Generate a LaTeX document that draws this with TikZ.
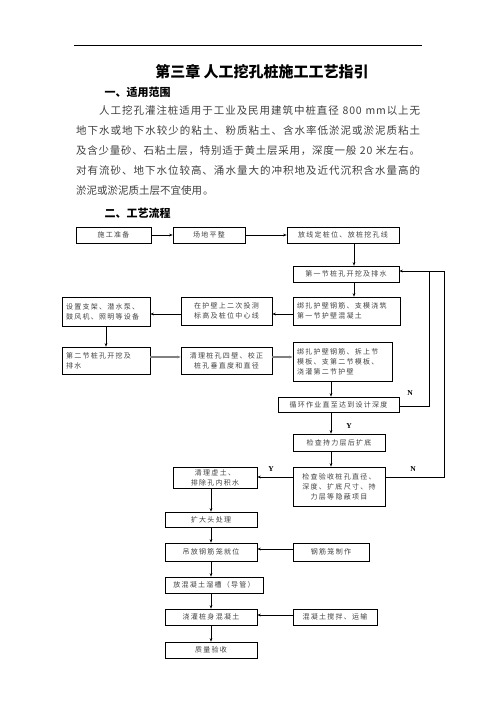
\documentclass[tikz,border=0pt]{standalone}
\usepackage{fontspec}
\setmainfont{Liberation Serif}
\newfontfamily\cjk{Noto Sans CJK SC}
\newfontfamily\boxfont[LetterSpace=18]{Noto Sans CJK SC}
\newfontfamily\parafont[LetterSpace=8]{Noto Sans CJK SC}
\XeTeXlinebreakskip=0pt plus 3pt
\usetikzlibrary{arrows.meta}

\newcommand{\bl}[1]{\mbox{#1}}

\tikzset{
  box/.style={draw, line width=0.6pt, inner sep=1pt, align=center,
    font=\boxfont\fontsize{7}{10}\selectfont, text=black!75},
  lbox/.style={box, align=left, inner xsep=4pt},
  arr/.style={-{Stealth[length=3.5pt,width=2.6pt]}, line width=0.6pt},
  thickarr/.style={arr, line width=1.5pt, draw=black!50},
  yn/.style={font=\bfseries\fontsize{7.5}{8}\selectfont},
}

\begin{document}
\begin{tikzpicture}[x=1pt,y=-1pt]
  \useasboundingbox (0,0) rectangle (496,702);
  \draw[line width=0.8pt] (74,45) -- (422,45);

  % text above the chart
  \node (title) at (262,72) {\cjk\bfseries\fontsize{15}{17}\selectfont 第三章\ 人工挖孔桩施工工艺指引};
  \node[anchor=west] (head1) at (101,92) {\cjk\bfseries\fontsize{11}{12}\selectfont 一、适用范围};
  \node[anchor=north west, text width=344pt, align=justify, inner sep=0pt,
    font=\XeTeXlinebreaklocale "zh"\parafont\fontsize{10.5}{20}\selectfont, text=black!75] (para) at (76,105)
    {\hspace*{23pt}人工挖孔灌注桩适用于工业及民用建筑中桩直径 800 mm以上无\linebreak
     地下水或地下水较少的粘土、粉质粘土、含水率低淤泥或淤泥质粘土\linebreak
     及含少量砂、石粘土层，特别适于黄土层采用，深度一般 20 米左右。\linebreak
     对有流砂、地下水位较高、涌水量大的冲积地及近代沉积含水量高的\linebreak
     淤泥或淤泥质土层不宜使用。};
  \node[anchor=west] (head2) at (101,213) {\cjk\bfseries\fontsize{11}{12}\selectfont 二、工艺流程};

  % boxes
  \node[box, minimum width=75, minimum height=16] (shigong) at (113.5,235) {施工准备};
  \node[box, minimum width=72, minimum height=16] (changdi) at (209,235) {场地平整};
  \node[box, minimum width=112, minimum height=16] (fangxian) at (343,235) {放线定桩位、放桩挖孔线};
  \node[box, minimum width=106, minimum height=16] (diyijie) at (346,274) {第一节桩孔开挖及排水};
  \node[lbox, text width=99, minimum height=28] (bangzha1) at (346.5,311) {\bl{绑扎护壁钢筋、支模浇筑}\\\bl{第一节护壁混凝土}};
  \node[box, minimum width=91, minimum height=28] (zaihubi) at (226.5,311) {在护壁上二次投测\\标高及桩位中心线};
  \node[lbox, text width=80, minimum height=29] (shezhi) at (106,311.5) {\bl{设置支架、潜水泵、}\\\bl{鼓风机、照明等设备}};
  \node[lbox, text width=80, minimum height=27] (dierjie) at (106,360.5) {\bl{第二节桩孔开挖及}\\\bl{排水}};
  \node[box, minimum width=91, minimum height=27] (qingli) at (226.5,360.5) {清理桩孔四壁、校正\\桩孔垂直度和直径};
  \node[lbox, text width=91, minimum height=39] (bangzha2) at (342.5,361.5) {\bl{绑扎护壁钢筋、拆上节}\\\bl{模板、支第二节模板、}\\\bl{浇灌第二节护壁}};
  \node[box, minimum width=121, minimum height=15] (xunhuan) at (338.5,404.5) {循环作业直至达到设计深度};
  \node[box, minimum width=92, minimum height=17] (chili) at (339,442.5) {检查持力层后扩底};
  \node[box, minimum width=92, minimum height=39] (yanshou) at (339,486.5) {检查验收桩孔直径、\\深度、扩底尺寸、持\\力层等隐蔽项目};
  \node[box, minimum width=84, minimum height=21] (xutu) at (215,477.5) {清理虚土、\\排除孔内积水};
  \node[box, minimum width=92, minimum height=15] (kuoda) at (211,519.5) {扩大头处理};
  \node[box, minimum width=92, minimum height=18] (diaofang) at (211,552) {吊放钢筋笼就位};
  \node[box, minimum width=76, minimum height=18] (gangjin) at (331,552) {钢筋笼制作};
  \node[box, minimum width=98, minimum height=16] (liucao) at (214,585) {放混凝土溜槽（导管）};
  \node[box, minimum width=92, minimum height=16] (jiaoguan) at (211,617) {浇灌桩身混凝土};
  \node[box, minimum width=84, minimum height=16] (jiaoban) at (335,617) {混凝土搅拌、运输};
  \node[box, minimum width=92, minimum height=16] (zhiliang) at (211,650) {质量验收};

  % Y / N labels
  \node[yn] (n1) at (410,393) {N};
  \node[yn] (y1) at (349,426) {Y};
  \node[yn] (y2) at (271,469) {Y};
  \node[yn] (n2) at (413,469) {N};

  % connectors
  \draw[arr] (shigong) -- (changdi);
  \draw[arr] (changdi) -- (fangxian);
  \draw[arr] ([xshift=8pt]diyijie.north |- fangxian.south) -- ([xshift=8pt]diyijie.north);
  \draw[arr] ([xshift=8pt]diyijie.south) -- ([xshift=8pt]diyijie.south |- bangzha1.north);
  \draw[arr] ([yshift=-3pt]bangzha1.west) -- ([yshift=-3pt]bangzha1.west -| zaihubi.east);
  \draw[arr] ([yshift=-3pt]zaihubi.west) -- ([yshift=-3pt]zaihubi.west -| shezhi.east);
  \draw[arr] (shezhi.south) -- (dierjie.north);
  \draw[thickarr] ([yshift=3.5pt]dierjie.east) -- ([yshift=3.5pt]dierjie.east -| qingli.west);
  \draw[thickarr] ([yshift=3.5pt]qingli.east) -- ([yshift=3.5pt]qingli.east -| bangzha2.west);
  \draw[arr] ([xshift=-7.5pt]xunhuan.north |- bangzha2.south) -- ([xshift=-7.5pt]xunhuan.north);
  \draw[arr] ([xshift=-7.5pt]xunhuan.south) -- ([xshift=-7.5pt]xunhuan.south |- chili.north);
  \draw[arr] ([xshift=-8pt]chili.south) -- ([xshift=-8pt]chili.south |- yanshou.north);
  \draw[arr] ([yshift=9.5pt]yanshou.west) -- ([yshift=9.5pt]yanshou.west -| xutu.east);
  \draw[arr] (kuoda.north |- xutu.south) -- (kuoda.north);
  \draw[arr] (kuoda.south) -- (diaofang.north);
  \draw[arr] ([yshift=3pt]gangjin.west) -- ([yshift=3pt]gangjin.west -| diaofang.east);
  \draw[arr] (diaofang.south) -- (diaofang.south |- liucao.north);
  \draw[arr] (jiaoguan.north |- liucao.south) -- (jiaoguan.north);
  \draw[arr] ([yshift=2pt]jiaoban.west) -- ([yshift=2pt]jiaoban.west -| jiaoguan.east);
  \draw[arr] (jiaoguan.south) -- (zhiliang.north);

  % loops back to the first section
  \coordinate (loopin) at (429,271);
  \coordinate (loopout) at (444,271);
  \draw[line width=0.6pt] ([yshift=-1.5pt]xunhuan.east) -| (loopin);
  \draw[line width=0.6pt] ([yshift=9.5pt]yanshou.east) -| (loopout) -- (loopin);
  \draw[arr] (loopin) -- ([yshift=3pt]diyijie.east);
\end{tikzpicture}
\end{document}
